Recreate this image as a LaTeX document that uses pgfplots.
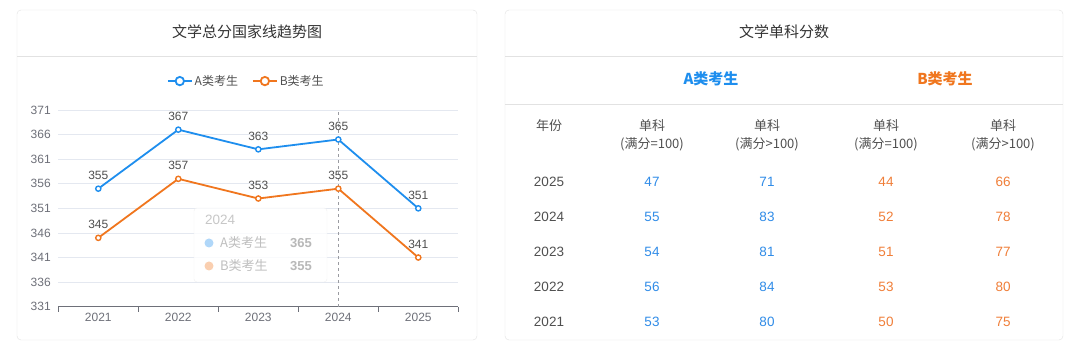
\documentclass[border=0pt]{standalone}
\usepackage{pgfplots}
\pgfplotsset{compat=1.18}
\usepackage{fontspec}
\setmainfont{Liberation Sans}
\newfontfamily\cjk{Noto Sans CJK SC}
\definecolor{cA}{RGB}{30,142,238}
\definecolor{cB}{RGB}{240,118,30}
\definecolor{tA}{RGB}{48,140,232}
\definecolor{tB}{RGB}{240,126,56}
\definecolor{cardline}{RGB}{226,226,226}
\definecolor{gridc}{RGB}{228,232,240}
\definecolor{axisc}{RGB}{110,112,121}
\definecolor{txt}{RGB}{51,51,51}
\definecolor{labc}{RGB}{80,80,80}
\newcommand{\fs}[1]{\fontsize{#1}{#1}\selectfont}
\begin{document}
\begin{tikzpicture}
\useasboundingbox (0pt,0pt) rectangle (1080pt,350pt);
\fill[white] (0pt,0pt) rectangle (1080pt,350pt);
% ---------- left card ----------
\draw[cardline, rounded corners=4pt, fill=white] (17pt,10pt) rectangle (477pt,340pt);
\draw[cardline] (17pt,294pt) -- (477pt,294pt);
\node[txt, font=\cjk\fs{15}] at (247pt,318pt) {文学总分国家线趋势图};
% ---------- right card ----------
\draw[cardline, rounded corners=4pt, fill=white] (505pt,10pt) rectangle (1063pt,340pt);
\draw[cardline] (505pt,294pt) -- (1063pt,294pt);
\draw[cardline] (505pt,246pt) -- (1063pt,246pt);
\node[txt, font=\cjk\fs{15}] at (784pt,318pt) {文学单科分数};
\node[cA, font=\cjk\bfseries\fs{15}] at (711pt,271pt) {A类考生};
\node[cB, font=\cjk\bfseries\fs{15}] at (945pt,271pt) {B类考生};
% table header
\node[labc, font=\cjk\fs{13}] at (549pt,224pt) {年份};
\foreach \cx/\lab in {652/{=},767/{>},886/{=},1003/{>}}{
  \node[labc, font=\cjk\fs{13}] at (\cx pt,224pt) {单科};
  \node[labc, font=\cjk\fs{13}] at (\cx pt,206pt) {(满分\lab100)};
}
% table rows: year / A=100 / A>100 / B=100 / B>100
\foreach \yy/\yr/\aa/\ab/\ba/\bb in {168/2025/47/71/44/66, 133/2024/55/83/52/78, 98/2023/54/81/51/77, 63/2022/56/84/53/80, 28/2021/53/80/50/75}{
  \node[labc, font=\fs{13.5}] at (549pt,\yy pt) {\yr};
  \node[tA, font=\fs{13.5}] at (652pt,\yy pt) {\aa};
  \node[tA, font=\fs{13.5}] at (767pt,\yy pt) {\ab};
  \node[tB, font=\fs{13.5}] at (886pt,\yy pt) {\ba};
  \node[tB, font=\fs{13.5}] at (1003pt,\yy pt) {\bb};
}
% ---------- chart ----------
\begin{axis}[
  at={(58.3pt,43.3pt)}, anchor=south west,
  scale only axis, width=400pt, height=196.7pt,
  /pgf/number format/assume math mode=true,
  xmin=-0.5, xmax=4.5, ymin=331, ymax=371,
  ytick={331,336,...,371},
  xtick={0,...,4}, xticklabels={2021,2022,2023,2024,2025},
  minor xtick={-0.5,0.5,...,4.5},
  axis x line*=bottom, axis y line*=left,
  y axis line style={draw=none},
  x axis line style={axisc, line width=0.8pt},
  major tick length=0pt,
  minor tick length=5pt,
  tick align=outside,
  minor x tick style={axisc, line width=0.8pt},
  ymajorgrids, grid style={gridc, line width=0.8pt},
  tick label style={font=\fs{12}, text=axisc},
  yticklabel style={xshift=-4pt},
  xticklabel style={yshift=-3pt},
  clip=false,
  nodes near coords,
  every node near coord/.append style={font=\fs{12}, text=labc, yshift=5pt},
  legend style={at={(0.47,1.147)}, anchor=center, draw=none, fill=none,
    legend columns=2, font=\cjk\fs{12}, text=labc,
    /tikz/every even column/.append style={column sep=12pt}},
  legend image code/.code={
    \draw[#1, mark=none, line width=1.8pt] (0pt,0pt) -- (24pt,0pt);
    \draw[#1, mark=none, line width=1.8pt, fill=white] (12pt,0pt) circle (4.2pt);
  },
]
\draw[axisc!70, dashed, line width=0.6pt] (axis cs:3,331) -- (axis cs:3,371);
\addplot[cA, line width=1.8pt, mark=*, mark size=2.6pt,
  mark options={fill=white, draw=cA, line width=1.4pt}]
  coordinates {(0,355) (1,367) (2,363) (3,365) (4,351)};
\addlegendentry{A类考生}
\addplot[cB, line width=1.8pt, mark=*, mark size=2.6pt,
  mark options={fill=white, draw=cB, line width=1.4pt}]
  coordinates {(0,345) (1,357) (2,353) (3,355) (4,341)};
\addlegendentry{B类考生}
\end{axis}
% ---------- faded tooltip ----------
\draw[black!6, fill=white, fill opacity=0.8, rounded corners=3pt] (194pt,68pt) rectangle (327pt,142pt);
\node[black!22, font=\fs{13.5}, anchor=west, inner sep=0pt] at (205pt,130pt) {2024};
\fill[cA!35] (209pt,107pt) circle (4.5pt);
\node[black!25, font=\cjk\fs{13}, anchor=west, inner sep=0pt] at (220pt,107pt) {A类考生};
\node[black!28, font=\bfseries\fs{13}, anchor=east, inner sep=0pt] at (312pt,107pt) {365};
\fill[cB!35] (209pt,84pt) circle (4.5pt);
\node[black!25, font=\cjk\fs{13}, anchor=west, inner sep=0pt] at (220pt,84pt) {B类考生};
\node[black!28, font=\bfseries\fs{13}, anchor=east, inner sep=0pt] at (312pt,84pt) {355};
\end{tikzpicture}
\end{document}
